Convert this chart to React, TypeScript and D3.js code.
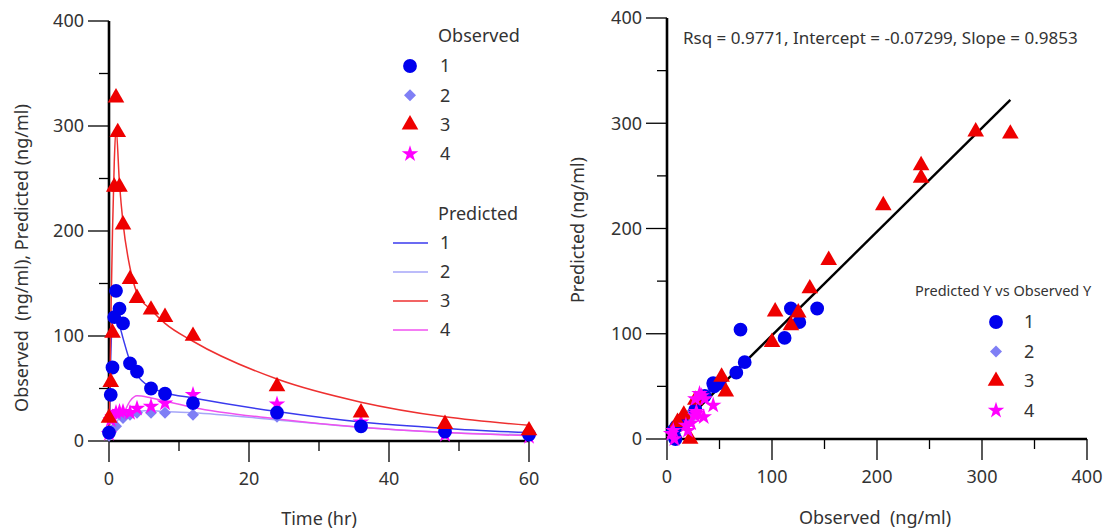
import React from "react";
import * as d3 from "d3";

// observed concentrations (ng/ml) per subject, with their sampling times (hr)
const t1 = [0, 0.25, 0.5, 0.75, 1, 1.5, 2, 3, 4, 6, 8, 12, 24, 36, 48, 60];
const obs1 = [8, 44, 70, 118, 143, 126, 112, 74, 66, 50, 45, 36, 27, 14, 9, 6];
const t2 = [0, 0.25, 1, 2, 3, 4, 6, 8, 12, 24, 36, 48, 60];
const obs2 = [5, 8, 14, 22, 25, 27, 27, 27, 25, 23, 14, 8, 5];
const t3 = [0, 0.25, 0.5, 0.75, 1, 1.25, 1.5, 2, 3, 4, 6, 8, 12, 24, 36, 48, 60];
const obs3 = [22, 56, 103, 242, 327, 294, 242, 206, 154, 136, 125, 118, 100, 52, 27, 16, 10];
const t4 = [0, 0.25, 0.5, 1, 1.5, 2, 3, 4, 6, 8, 12, 24, 36, 48, 60];
const obs4 = [7, 20, 23, 27, 28, 28, 27, 31, 33, 36, 44, 35, 18, 6, 4];

// predicted values at the observation times (right plot)
const fit1 = [0, 53, 104, 124, 124, 111, 96, 73, 63, 53, 50, 41, 28, 18, 12, 8];
const fit2 = [0, 5, 16, 24, 27, 28, 29, 29, 27, 20, 13, 8, 6];
const fit3 = [0, 45, 121, 260, 290, 292, 248, 222, 170, 143, 120, 108, 92, 59, 37, 23, 16];
const fit4 = [0, 8, 15, 22, 24, 26, 38, 43, 41, 38, 32, 21, 13, 8, 5];

// predicted curves
const predT = [0, 0.25, 0.5, 0.75, 1, 1.5, 2, 3, 4, 6, 8, 12, 24, 36, 48, 60];
const pred1 = [0, 80, 116, 119, 118, 110, 98, 76, 63, 51, 46, 41, 28, 18, 12, 8];
const pred2 = [0, 5, 10, 14, 17, 22, 24, 27, 28, 29, 28, 27, 20, 13, 8, 6];
const pred3 = [0, 110, 200, 265, 298, 245, 208, 165, 141, 125, 112, 95, 59, 37, 23, 15];
const pred4 = [0, 8, 15, 19, 22, 24, 26, 38, 43, 41, 38, 32, 21, 13, 8, 5];

const subjects = ["1", "2", "3", "4"];
const rsqText = "Rsq = 0.9771, Intercept = -0.07299, Slope = 0.9853";
const intercept = -0.07299;
const slope = 0.9853;

const markColors = ["#0000ee", "#7f7ff5", "#ee0000", "#ff00ff"];
const lineColors = ["#3a3aee", "#a6a6f8", "#ee3030", "#f050f0"];
const font = "'Noto Sans', 'Open Sans', sans-serif";
const textColor = "#333";

const symbolPaths = [
  d3.symbol().type(d3.symbolCircle).size(150)(),
  d3.symbol().type(d3.symbolSquare).size(72)(),
  d3.symbol().type(d3.symbolTriangle).size(120)(),
  d3.symbol().type(d3.symbolStar).size(85)(),
];

const Marker = ({ i, x, y }: { i: number; x: number; y: number }) => (
  <path
    d={symbolPaths[i] as string}
    transform={`translate(${x},${y})${i === 1 ? " rotate(45)" : ""}`}
    fill={markColors[i]}
  />
);

const Axes = ({ xs, ys, xMajor, xMinor, yMajor, yMinor }: any) => {
  const [x0, x1] = xs.range();
  const [y0, y1] = ys.range();
  return (
    <g>
      {yMajor.map((v: number) => (
        <g key={"ym" + v}>
          <line x1={x0 - 21} x2={x0} y1={ys(v)} y2={ys(v)} stroke="#000" strokeWidth={1.3} />
          <text x={x0 - 25} y={ys(v)} dy="0.35em" textAnchor="end" fontSize={18} fill={textColor}>
            {v}
          </text>
        </g>
      ))}
      {yMinor.map((v: number) => (
        <line key={"yn" + v} x1={x0 - 10} x2={x0} y1={ys(v)} y2={ys(v)} stroke="#000" strokeWidth={1.3} />
      ))}
      {xMajor.map((v: number) => (
        <g key={"xm" + v}>
          <line x1={xs(v)} x2={xs(v)} y1={y0} y2={y0 + 21} stroke="#000" strokeWidth={1.3} />
          <text x={xs(v)} y={y0 + 38} dy="0.35em" textAnchor="middle" fontSize={18} fill={textColor}>
            {v}
          </text>
        </g>
      ))}
      {xMinor.map((v: number) => (
        <line key={"xn" + v} x1={xs(v)} x2={xs(v)} y1={y0} y2={y0 + 10} stroke="#000" strokeWidth={1.3} />
      ))}
      <line x1={x0} x2={x0} y1={y0} y2={y1} stroke="#000" strokeWidth={2.6} />
      <line x1={x0} x2={x1} y1={y0} y2={y0} stroke="#000" strokeWidth={2.6} />
    </g>
  );
};

export default function App() {
  const xL = d3.scaleLinear().domain([0, 60]).range([109, 529]);
  const yL = d3.scaleLinear().domain([0, 400]).range([441, 21]);
  const xR = d3.scaleLinear().domain([0, 400]).range([667, 1087]);
  const yR = d3.scaleLinear().domain([0, 400]).range([439, 18]);

  const times = [t1, t2, t3, t4];
  const obs = [obs1, obs2, obs3, obs4];
  const fits = [fit1, fit2, fit3, fit4];
  const preds = [pred1, pred2, pred3, pred4];

  const line = d3
    .line<number>()
    .x((_, j) => xL(predT[j]))
    .y((d) => yL(d))
    .curve(d3.curveMonotoneX);

  const maxObs = d3.max(obs, (s) => d3.max(s)) as number;

  return (
    <svg width={1116} height={531} style={{ position: "absolute", left: 0, top: 0, background: "#fff" }} fontFamily={font}>
      {/* left: concentration vs time */}
      <Axes
        xs={xL}
        ys={yL}
        xMajor={[0, 20, 40, 60]}
        xMinor={[10, 30, 50]}
        yMajor={[0, 100, 200, 300, 400]}
        yMinor={[50, 150, 250, 350]}
      />
      {preds.map((p, i) => (
        <path key={"pl" + i} d={line(p) as string} fill="none" stroke={lineColors[i]} strokeWidth={1.5} />
      ))}
      {[1, 3, 0, 2].map((i) =>
        obs[i].map((v, j) => <Marker key={`lo${i}-${j}`} i={i} x={xL(times[i][j])} y={yL(v)} />)
      )}
      <text x={22} y={258} transform="rotate(-90,22,258)" textAnchor="middle" dy="0.35em" fontSize={18} fill={textColor} style={{ whiteSpace: "pre" }}>
        {"Observed  (ng/ml), Predicted (ng/ml)"}
      </text>
      <text x={319} y={519} textAnchor="middle" dy="0.35em" fontSize={18} fill={textColor}>
        Time (hr)
      </text>

      {/* left legends */}
      <text x={438} y={36} dy="0.35em" fontSize={18} fill={textColor}>Observed</text>
      {subjects.map((s, i) => (
        <g key={"lg" + i}>
          <Marker i={i} x={410} y={66 + i * 29.3} />
          <text x={440} y={66 + i * 29.3} dy="0.35em" fontSize={18} fill={textColor}>{s}</text>
        </g>
      ))}
      <text x={438} y={214} dy="0.35em" fontSize={18} fill={textColor}>Predicted</text>
      {subjects.map((s, i) => (
        <g key={"lp" + i}>
          <line x1={393} x2={428} y1={243 + i * 29} y2={243 + i * 29} stroke={lineColors[i]} strokeWidth={1.5} />
          <text x={440} y={243 + i * 29} dy="0.35em" fontSize={18} fill={textColor}>{s}</text>
        </g>
      ))}

      {/* right: predicted vs observed */}
      <Axes
        xs={xR}
        ys={yR}
        xMajor={[0, 100, 200, 300, 400]}
        xMinor={[50, 150, 250, 350]}
        yMajor={[0, 100, 200, 300, 400]}
        yMinor={[50, 150, 250, 350]}
      />
      <line
        x1={xR(0)}
        y1={yR(intercept)}
        x2={xR(maxObs)}
        y2={yR(intercept + slope * maxObs)}
        stroke="#000"
        strokeWidth={2.4}
      />
      {[1, 0, 2, 3].map((i) =>
        obs[i].map((v, j) => <Marker key={`ro${i}-${j}`} i={i} x={xR(v)} y={yR(fits[i][j])} />)
      )}
      <text x={683} y={38} dy="0.35em" fontSize={17} fill={textColor}>{rsqText}</text>
      <text x={578} y={230} transform="rotate(-90,578,230)" textAnchor="middle" dy="0.35em" fontSize={18} fill={textColor}>
        Predicted (ng/ml)
      </text>
      <text x={875} y={518} textAnchor="middle" dy="0.35em" fontSize={18} fill={textColor} style={{ whiteSpace: "pre" }}>
        {"Observed  (ng/ml)"}
      </text>
      <text x={915} y={291} dy="0.35em" fontSize={14.5} fill={textColor}>Predicted Y vs Observed Y</text>
      {subjects.map((s, i) => (
        <g key={"rg" + i}>
          <Marker i={i} x={996} y={322 + i * 29.5} />
          <text x={1024} y={322 + i * 29.5} dy="0.35em" fontSize={18} fill={textColor}>{s}</text>
        </g>
      ))}
    </svg>
  );
}
